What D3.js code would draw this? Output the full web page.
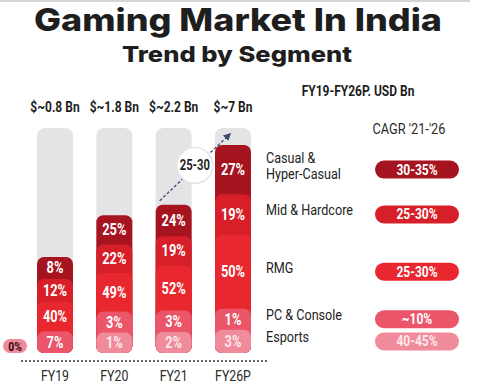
<!DOCTYPE html>
<html>
<head>
<meta charset="utf-8">
<script src="https://cdn.jsdelivr.net/npm/d3@7"></script>
<style>
  body { margin: 0; background: #fff; }
  .narrow { font-family: Roboto, 'Liberation Sans', sans-serif; }
  .title { font-family: Inter, Lato, 'Open Sans', sans-serif; font-weight: 800; fill: #1e1e1e; }
</style>
</head>
<body>
<div id="chart"></div>
<script>
// ---------------------------//
//            DATA            //
// ---------------------------//
const years = ["FY19", "FY20", "FY21", "FY26P"];
const marketSize = [0.8, 1.8, 2.2, 7];
const sizeLabels = ["$~0.8 Bn", "$~1.8 Bn", "$~2.2 Bn", "$~7 Bn"];

const segments = ["Casual & Hyper-Casual", "Mid & Hardcore", "RMG", "PC & Console", "Esports"];
const casualShare = [8, 25, 24, 27];
const midShare = [12, 22, 19, 19];
const rmgShare = [40, 49, 52, 50];
const pcShare = [7, 3, 3, 1];
const esportsShare = [0, 1, 2, 3];
const cagrLabels = ["30-35%", "25-30%", "25-30%", "~10%", "40-45%"];
const arrowLabel = "25-30";

const segColors = ["#a5141f", "#d71f29", "#e8272f", "#ea5569", "#f08b9b"];
const shares = [casualShare, midShare, rmgShare, pcShare, esportsShare];

// ---------------------------//
//          CANVAS            //
// ---------------------------//
const W = 490, H = 391;
const svg = d3.select("#chart").append("svg")
    .attr("width", W).attr("height", H);

const baseY = 353, grayTop = 128, barW = 36, minSeg = 20;

// squeeze text horizontally to get a condensed look
function condense(sel, f) {
    sel.each(function() {
        const w = this.getComputedTextLength();
        d3.select(this).attr("textLength", w * f).attr("lengthAdjust", "spacingAndGlyphs");
    });
}

// top border line
svg.append("line")
    .attr("x1", 0).attr("x2", 470).attr("y1", 1).attr("y2", 1)
    .attr("stroke", "#d4d4d4").attr("stroke-width", 2);

// titles
svg.append("text").attr("class", "title")
    .attr("x", 238).attr("y", 31).attr("text-anchor", "middle")
    .attr("font-size", 31).attr("textLength", 408).attr("lengthAdjust", "spacingAndGlyphs")
    .text("Gaming Market In India");
svg.append("text").attr("class", "title")
    .attr("x", 237).attr("y", 62).attr("text-anchor", "middle")
    .attr("font-size", 22).attr("textLength", 230).attr("lengthAdjust", "spacingAndGlyphs")
    .text("Trend by Segment");

// ---------------------------//
//          SCALES            //
// ---------------------------//
const x = d3.scalePoint().domain(years).range([55, 233]);
// bar height follows market size on a log scale
const hScale = d3.scaleLog().domain([0.8, 7]).range([96, 208]);

// build stacked segments: each segment gets a floor height + proportional share
const stacks = years.map((yr, i) => {
    const segs = segments.map((s, j) => ({seg: s, j, val: shares[j][i]}))
        .filter(d => d.val > 0);
    const total = d3.sum(segs, d => d.val);
    const h = hScale(marketSize[i]);
    const top = baseY - h;
    const spare = h - segs.length * minSeg;
    const inner = d3.scaleLinear().domain([0, total]).range([0, spare]);
    let y0 = top;
    segs.forEach(d => {
        d.y0 = y0;
        d.h = minSeg + inner(d.val);
        d.y1 = y0 + d.h;
        d.mid = (d.y0 + d.y1) / 2;
        y0 = d.y1;
    });
    return {year: yr, i, top, segs};
});

// ---------------------------//
//           BARS             //
// ---------------------------//
// gray background columns
svg.selectAll(".bg").data(years).enter().append("rect")
    .attr("x", d => x(d) - barW / 2).attr("width", barW)
    .attr("y", grayTop).attr("height", baseY - grayTop)
    .attr("rx", 8).attr("fill", "#e4e4e7");

const barG = svg.selectAll(".bar").data(stacks).enter().append("g");

barG.selectAll("rect").data(d => d.segs.map(s => ({...s, year: d.year}))).enter().append("rect")
    .attr("x", d => x(d.year) - barW / 2).attr("width", barW)
    .attr("y", d => d.y0).attr("height", d => baseY - d.y0)
    .attr("rx", 7)
    .attr("fill", d => segColors[d.j]);

barG.selectAll("text").data(d => d.segs.map(s => ({...s, year: d.year}))).enter().append("text")
    .attr("class", "narrow")
    .attr("x", d => x(d.year)).attr("y", d => d.mid + 5.5)
    .attr("text-anchor", "middle").attr("font-size", 16).attr("font-weight", "bold")
    .attr("fill", d => d.j === 4 ? "#fde7ea" : "#fff")
    .text(d => d.val + "%")
    .call(condense, 0.8);

// zero-share segments shown as a pill left of the bar
years.forEach((yr, i) => {
    segments.forEach((s, j) => {
        if (shares[j][i] !== 0) return;
        const cy = baseY - 7;
        svg.append("rect")
            .attr("x", x(yr) - barW / 2 - 34).attr("y", cy - 7)
            .attr("width", 24).attr("height", 14).attr("rx", 7)
            .attr("fill", segColors[j]);
        svg.append("text").attr("class", "narrow")
            .attr("x", x(yr) - barW / 2 - 22).attr("y", cy + 5)
            .attr("text-anchor", "middle").attr("font-size", 13).attr("font-weight", "bold")
            .attr("fill", "#2b0a10").text("0%")
            .call(condense, 0.8);
    });
});

// size labels above bars
svg.selectAll(".size").data(years).enter().append("text")
    .attr("class", "narrow")
    .attr("x", d => x(d)).attr("y", 112)
    .attr("text-anchor", "middle").attr("font-size", 15).attr("font-weight", "bold")
    .attr("fill", "#1e1e1e")
    .text((d, i) => sizeLabels[i])
    .call(condense, 0.8);

// baseline + x axis labels
svg.append("line")
    .attr("x1", 21).attr("x2", 268).attr("y1", 361).attr("y2", 361)
    .attr("stroke", "#666").attr("stroke-width", 2).attr("stroke-dasharray", "2,2");

svg.selectAll(".xl").data(years).enter().append("text")
    .attr("class", "narrow")
    .attr("x", d => x(d)).attr("y", 381)
    .attr("text-anchor", "middle").attr("font-size", 15)
    .attr("fill", "#2a2a2a").text(d => d)
    .call(condense, 0.82);

// ---------------------------//
//        GROWTH ARROW        //
// ---------------------------//
svg.append("defs").append("marker")
    .attr("id", "ah").attr("viewBox", "0 0 10 10")
    .attr("refX", 8).attr("refY", 5).attr("markerWidth", 6).attr("markerHeight", 6)
    .attr("orient", "auto")
    .append("path").attr("d", "M0,0 L10,5 L0,10 z").attr("fill", "#3d4a6b");

const a0 = [x("FY21") - 14, stacks[2].top - 4];
const a1 = [x("FY26P") - 3, grayTop + 6];
svg.append("line")
    .attr("x1", a0[0]).attr("y1", a0[1]).attr("x2", a1[0]).attr("y2", a1[1])
    .attr("stroke", "#3d4a6b").attr("stroke-width", 1.3).attr("stroke-dasharray", "3,2")
    .attr("marker-end", "url(#ah)");

const cx = (a0[0] + a1[0]) / 2, cy = (a0[1] + a1[1]) / 2 - 2;
svg.append("circle").attr("cx", cx).attr("cy", cy).attr("r", 18)
    .attr("fill", "#fff").attr("stroke", "#e6e6e6").attr("stroke-width", 1.5);
svg.append("text").attr("class", "narrow")
    .attr("x", cx).attr("y", cy + 5).attr("text-anchor", "middle")
    .attr("font-size", 14).attr("font-weight", "bold").attr("fill", "#1e1e1e")
    .text(arrowLabel)
    .call(condense, 0.8);

// ---------------------------//
//           LEGEND           //
// ---------------------------//
svg.append("text").attr("class", "narrow")
    .attr("x", 358).attr("y", 96).attr("text-anchor", "middle")
    .attr("font-size", 15).attr("font-weight", "bold").attr("fill", "#1e1e1e")
    .text("FY19-FY26P. USD Bn")
    .call(condense, 0.8);
svg.append("text").attr("class", "narrow")
    .attr("x", 409).attr("y", 134).attr("text-anchor", "middle")
    .attr("font-size", 15).attr("fill", "#2a2a2a")
    .text("CAGR '21-'26")
    .call(condense, 0.85);

// legend rows line up with the last (FY26P) stack
const lastSegs = stacks[3].segs;
const legG = svg.selectAll(".leg").data(lastSegs).enter().append("g");

legG.each(function(d) {
    const parts = d.seg === "Casual & Hyper-Casual" ? ["Casual &", "Hyper-Casual"] : [d.seg];
    const g = d3.select(this);
    parts.forEach((p, k) => {
        g.append("text").attr("class", "narrow")
            .attr("x", 266).attr("font-size", 14).attr("fill", "#222")
            .attr("y", d.mid + 4 - (parts.length - 1) * 8 + k * 16 - 3)
            .text(p)
            .call(condense, 0.9);
    });
});

legG.append("rect")
    .attr("x", 375).attr("width", 84).attr("height", 18).attr("rx", 9)
    .attr("y", d => d.mid - 9)
    .attr("fill", d => segColors[d.j]);
legG.append("text").attr("class", "narrow")
    .attr("x", 417).attr("y", d => d.mid + 5).attr("text-anchor", "middle")
    .attr("font-size", 15).attr("font-weight", "bold")
    .attr("fill", d => d.j === 4 ? "#fde7ea" : "#fff")
    .text(d => cagrLabels[d.j])
    .call(condense, 0.8);
</script>
</body>
</html>
